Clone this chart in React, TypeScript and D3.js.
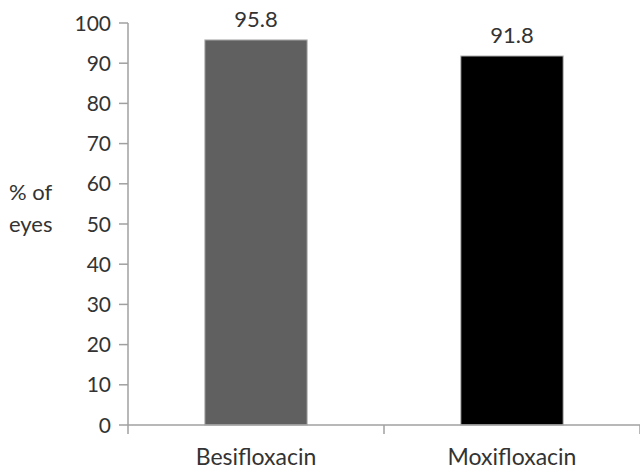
import { scaleBand, scaleLinear, range } from 'd3'

const categories = ['Besifloxacin', 'Moxifloxacin']
const values = [95.8, 91.8]
const barColors = ['#606060', '#000000']
const yTicks = range(0, 101, 10)
const yTitleLines = ['% of', 'eyes']

const width = 640
const height = 470
const left = 128
const right = 640
const top = 23
const bottom = 425
const font = 'Lato, "Open Sans", sans-serif'
const axisColor = '#a0a0a0'
const textColor = '#333'

export default function App() {
  const x = scaleBand<string>().domain(categories).range([left, right]).paddingInner(0.6).paddingOuter(0.3)
  const band = scaleBand<string>().domain(categories).range([left, right])
  const y = scaleLinear().domain([0, 100]).range([bottom, top])

  return (
    <svg
      width={width}
      height={height}
      style={{ position: 'absolute', left: 0, top: 0, background: '#fff' }}
      fontFamily={font}
    >
      {yTicks.map((t) => (
        <g key={t}>
          <line x1={left - 9} x2={left} y1={y(t)} y2={y(t)} stroke={axisColor} strokeWidth={1.5} />
          <text x={left - 17} y={y(t)} dy="0.36em" textAnchor="end" fontSize={21} fill={textColor}>
            {t}
          </text>
        </g>
      ))}
      <line x1={left} x2={left} y1={y(100)} y2={bottom} stroke={axisColor} strokeWidth={1.5} />

      {categories.map((c, i) => (
        <g key={c}>
          <rect
            x={x(c)}
            y={y(values[i])}
            width={x.bandwidth()}
            height={bottom - y(values[i])}
            fill={barColors[i]}
            stroke="#bbb"
            strokeWidth={1}
          />
          <text
            x={(x(c) ?? 0) + x.bandwidth() / 2}
            y={y(values[i]) - 13}
            textAnchor="middle"
            fontSize={22}
            fill={textColor}
          >
            {values[i]}
          </text>
          <text
            x={(band(c) ?? 0) + band.bandwidth() / 2}
            y={465}
            textAnchor="middle"
            fontSize={23}
            fill={textColor}
          >
            {c}
          </text>
        </g>
      ))}

      <line x1={left} x2={right} y1={bottom} y2={bottom} stroke={axisColor} strokeWidth={1.5} />
      {[...categories.map((c) => band(c) ?? 0), right].map((px, i) => (
        <line key={i} x1={px} x2={px} y1={bottom} y2={bottom + 9} stroke={axisColor} strokeWidth={1.5} />
      ))}

      {yTitleLines.map((line, i) => (
        <text key={line} x={9} y={200 + i * 32} fontSize={22} fill={textColor}>
          {line}
        </text>
      ))}
    </svg>
  )
}
